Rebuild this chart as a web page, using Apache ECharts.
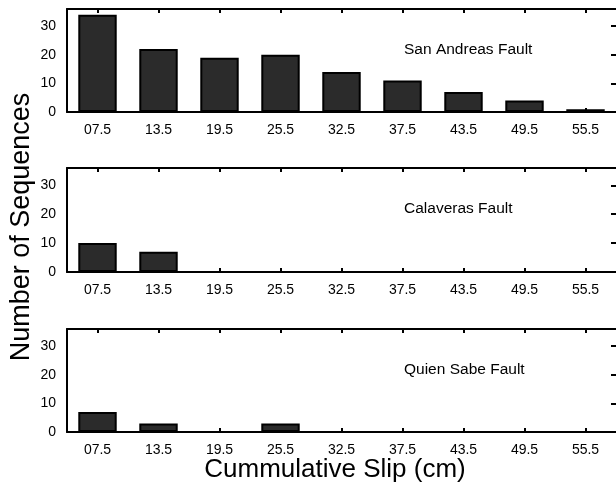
<!DOCTYPE html>
<html>
<head>
<meta charset="utf-8">
<script src="https://cdn.jsdelivr.net/npm/echarts@6/dist/echarts.min.js"></script>
<style>
html,body{margin:0;padding:0;background:#fff;}
#chart{width:616px;height:493px;}
</style>
</head>
<body>
<div id="chart"></div>
<script>
const categories = ['07.5','13.5','19.5','25.5','32.5','37.5','43.5','49.5','55.5'];
const sanAndreas = [34, 22, 19, 20, 14, 11, 7, 4, 1];
const calaveras = [10, 7, 0, 0, 0, 0, 0, 0, 0];
const quienSabe = [7, 3, 0, 3, 0, 0, 0, 0, 0];
const panelNames = ['San Andreas Fault', 'Calaveras Fault', 'Quien Sabe Fault'];
const panelSeries = [sanAndreas, calaveras, quienSabe];
const yTicks = [0, 10, 20, 30];
const yMax = 36;
const xTitle = 'Cummulative Slip (cm)';
const yTitle = 'Number of Sequences';

const FONT = 'Liberation Sans, Arial, Helvetica, sans-serif';
const tops = [9, 168, 329];
const heights = [103, 104, 103];
const grids = [], xAxes = [], yAxes = [], series = [], graphics = [];

panelSeries.forEach((data, i) => {
  grids.push({left: 67, width: 551, top: tops[i], height: heights[i], show: false, containLabel: false});
  xAxes.push({
    type: 'category', gridIndex: i, data: categories, position: 'bottom',
    axisLine: {show: true, onZero: false, lineStyle: {color: '#000', width: 2}},
    axisTick: {show: true, inside: true, alignWithLabel: true, length: 4, lineStyle: {color: '#000', width: 2}},
    axisLabel: {color: '#000', fontSize: 14, fontFamily: FONT, margin: 11},
    splitLine: {show: false}
  });
  xAxes.push({
    type: 'category', gridIndex: i, data: categories, position: 'top',
    axisLine: {show: true, onZero: false, lineStyle: {color: '#000', width: 2}},
    axisTick: {show: true, inside: true, alignWithLabel: true, length: 4, lineStyle: {color: '#000', width: 2}},
    axisLabel: {show: false}, splitLine: {show: false}
  });
  yAxes.push({
    type: 'value', gridIndex: i, min: 0, max: yMax, interval: 10, position: 'left',
    axisLine: {show: true, onZero: false, lineStyle: {color: '#000', width: 2}},
    axisTick: {show: false},
    axisLabel: {color: '#000', fontSize: 14, fontFamily: FONT, margin: 11, showMaxLabel: false,
      formatter: v => yTicks.includes(v) ? String(v) : ''},
    splitLine: {show: false}
  });
  yAxes.push({
    type: 'value', gridIndex: i, min: 0, max: yMax, interval: 10, position: 'right',
    axisLine: {show: false, onZero: false},
    axisTick: {show: true, inside: true, length: 5, lineStyle: {color: '#000', width: 2}},
    axisLabel: {show: false}, splitLine: {show: false}
  });
  series.push({
    type: 'bar', xAxisIndex: 2 * i, yAxisIndex: 2 * i, data: data,
    barWidth: '63%',
    itemStyle: {color: '#2b2b2b', borderColor: '#000', borderWidth: 2},
    silent: true
  });
  graphics.push({
    type: 'text', left: 404, top: tops[i] + 33,
    style: {text: panelNames[i], font: '15.5px ' + FONT, fill: '#000'}
  });
});

graphics.push({
  type: 'text', x: 22, y: 227, rotation: Math.PI / 2,
  style: {text: yTitle, font: '27px ' + FONT, fill: '#000', textAlign: 'center', textVerticalAlign: 'middle'}
});
graphics.push({
  type: 'text', x: 335, y: 470,
  style: {text: xTitle, font: '26px ' + FONT, fill: '#000', textAlign: 'center', textVerticalAlign: 'middle'}
});

const chart = echarts.init(document.getElementById('chart'), null, {renderer: 'canvas'});
chart.setOption({
  animation: false,
  backgroundColor: '#fff',
  grid: grids, xAxis: xAxes, yAxis: yAxes, series: series, graphic: graphics
});
</script>
</body>
</html>
